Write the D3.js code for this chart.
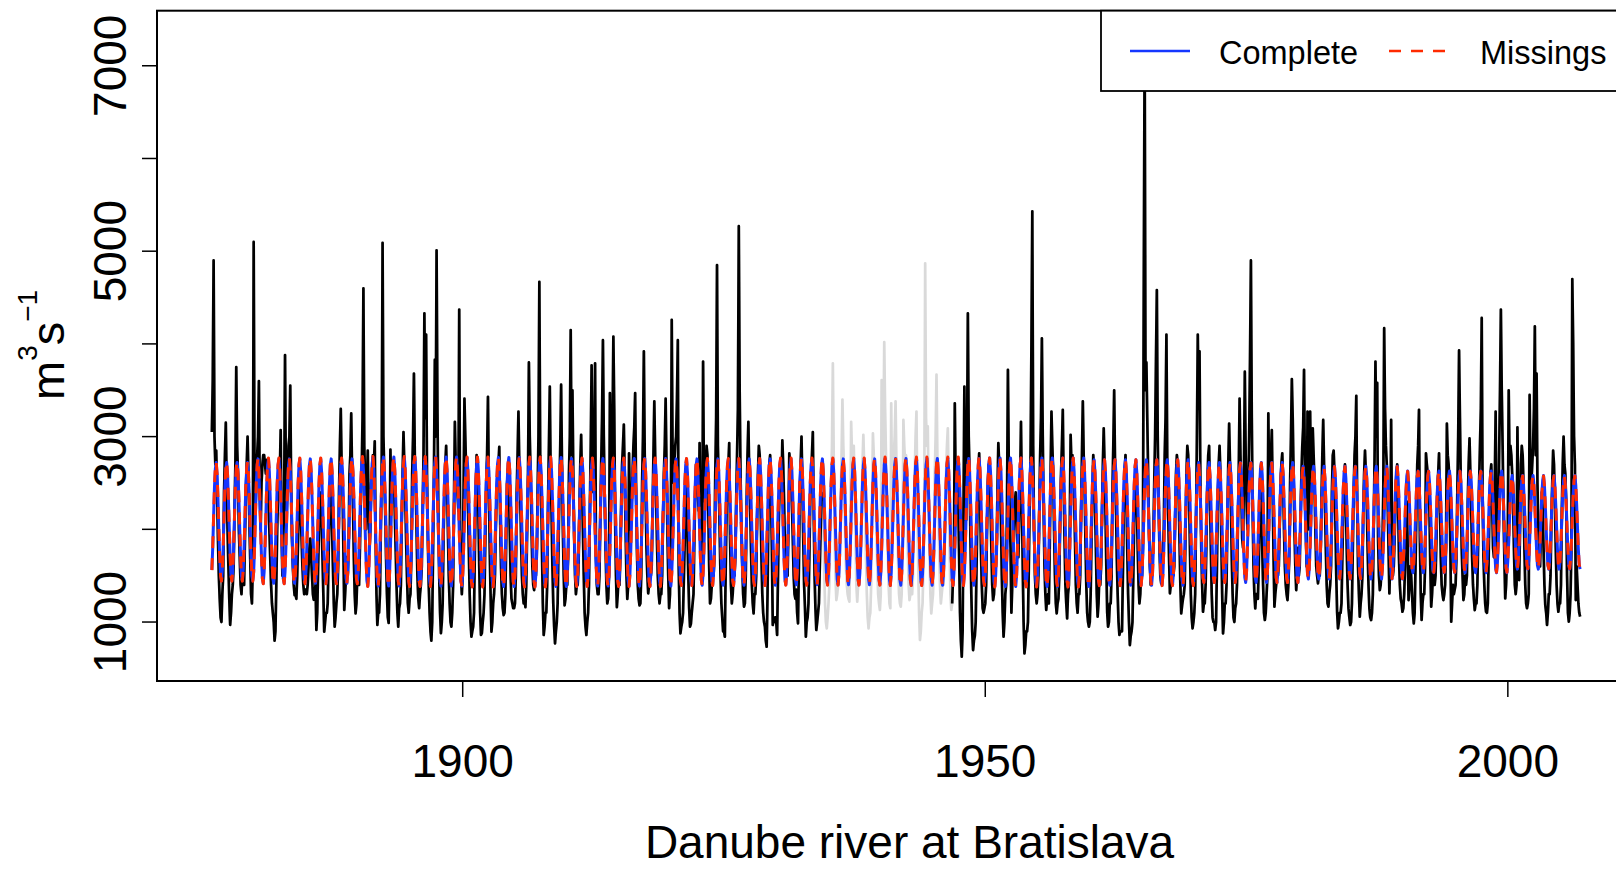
<!DOCTYPE html>
<html>
<head>
	<meta charset="utf-8">
	<script type="text/javascript" src="https://cdn.jsdelivr.net/npm/d3@7"></script>
	<title> Danube river at Bratislava </title>
	<style>
		body { margin: 0; background: #fff; }
		text { font-family: "Liberation Sans", Arial, Helvetica, sans-serif; fill: #000; }
	</style>
</head>
<body>
	<script type="text/javascript">
		// monthly discharge, m3/s, Jan..Dec for every year
		var startYear = 1876;
		var flow1870s = [
			3050,3600,4900,3000,2700,2850,2400,1900,1500,1250,1050,1000,
			1300,1500,2400,2800,3150,2500,2000,1600,1250,970,1100,1300,
			1400,1600,2200,2700,3750,2900,2600,2000,1700,1400,1300,1500,
			1500,1400,1900,2400,2700,3000,2600,2100,1700,1300,1200,1600];
		var flow1880s = [
			5100,2600,2200,2500,2800,3000,3600,2400,2000,2500,2700,2800,
			2800,2700,2600,2750,2500,2300,2000,1700,1400,1200,1100,1000,
			800,900,1400,2000,2400,2700,2600,3070,2000,1500,1900,2300,
			3880,2500,2200,2600,2900,3000,3550,2500,1900,1600,1400,1290,
			1300,1250,1500,1900,2300,2500,2200,1900,1600,1400,1300,1350,
			1350,1300,1400,1600,1800,1900,1700,1500,1300,1240,1300,1400,
			914,1100,1600,2000,2400,2300,2100,1700,1300,896,1000,1100,
			1100,1200,1700,2200,2450,2300,2000,1600,1200,950,1050,1200,
			1300,1600,2400,2900,3300,2700,2500,1800,1130,1300,1500,1700,
			1500,1800,2600,2800,3250,2600,2300,1700,1300,1093,1200,1500];
		var flow1890s = [
			1500,1400,1800,2300,2600,3200,4600,2900,2500,2000,2500,2850,
			2200,1800,2000,2500,2600,2800,2700,2950,1900,1300,968,1100,
			1100,1300,2000,2700,5090,3000,2600,2200,1700,1300,1050,990,
			1500,2860,2300,2500,2700,2600,2200,1800,1400,1100,950,1150,
			1200,1400,2100,2600,3050,2700,2400,1900,1500,1200,1100,1250,
			1300,1700,2600,3000,3680,2800,2500,2000,1500,1250,1150,1300,
			1400,1600,2200,2800,4330,3200,4100,2600,1900,1400,1100,900,
			800,1000,1800,2600,3830,3000,5010,3300,2200,1500,1100,880,
			1000,1200,1900,2400,2700,2900,2500,2000,1500,1200,1000,950,
			1100,1400,2300,3160,2700,2600,2400,2200,4370,2000,1500,1300];
		var flow1900s = [
			1500,2400,3410,3000,2600,2700,2300,1800,1300,1000,842,900,
			950,1100,1800,2400,2800,2600,2200,1600,1100,860,880,1000,
			1100,1300,1900,2500,2800,3430,2500,1800,1300,896,1000,1200,
			1300,1500,2000,2400,2600,2700,2890,2100,1600,1300,1150,1075,
			1100,1300,1900,2500,2650,2500,2000,1500,1250,1200,1150,1150,
			1200,1500,2400,2800,3270,2700,2400,1900,1500,1300,1200,1250,
			1160,1400,2000,2600,3800,3000,2600,2000,1600,1400,1345,1500,
			1500,1700,2400,3000,4670,2800,2500,1800,1200,860,950,1100,
			1100,1400,2300,2900,3540,2600,2200,1600,1200,950,770,900,
			1000,1200,1800,2400,2900,3560,2700,2000,1500,1180,1250,1400];
		var flow1910s = [
			1400,1700,2600,3000,4150,2800,3500,2600,1900,1500,1300,1400,
			1400,1600,2200,2700,3020,2500,2000,1500,1100,950,860,1000,
			1100,1400,2200,2900,3770,2600,2400,2800,3790,1700,1400,1300,
			1300,1500,2100,2700,3200,4040,3000,2400,1800,1400,1200,1250,
			1500,3470,2500,2700,3100,4080,3300,2100,1500,1160,1300,1500,
			1400,1700,2300,2700,2900,3130,2600,2000,1500,1250,1400,2820,
			2200,2000,2300,2600,2900,3100,3470,2500,1800,1400,1250,1180,
			1200,1500,2500,3000,3920,2800,2400,1800,1500,1310,1400,1500,
			1500,1600,2200,2800,3380,2800,2400,1900,1500,1300,1200,1300,
			1300,1500,2100,2600,2900,3410,2700,2000,1500,1150,1300,2000];
		var flow1920s = [
			4260,2800,2500,2700,2900,3000,3400,4040,1600,1100,878,950,
			1000,1100,1500,1900,2300,2500,2000,1500,1150,950,980,1100,
			1200,1300,1900,2400,2700,2600,2400,2200,2930,2000,1600,1700,
			3810,2500,2300,2600,2900,2800,2200,1600,1200,1250,1400,1600,
			1500,1700,2600,3200,4850,2900,2500,2000,1500,1200,1050,900,
			900,842,1600,2200,2600,2700,2930,1900,1400,1200,1300,1500,
			1500,1700,2300,2800,3300,5270,3500,2600,2000,1600,1300,1165,
			1200,1500,2300,2800,3160,2600,2300,1800,1400,1200,1093,1300,
			1300,1500,2100,2600,2900,2800,2300,1700,1300,1100,1000,950,
			800,734,1300,2200,2700,2800,2400,1800,968,1050,1000,1050];
		var flow1930s = [
			1000,860,1500,2100,2500,2600,2400,2960,2700,2300,1800,1700,
			1600,1500,2000,2820,2700,2600,2300,1900,1500,1300,1250,1350,
			1100,986,1600,2400,2700,3000,2500,1900,1400,1150,842,1000,
			1050,1200,1700,2300,2600,2800,3050,2200,1500,1150,914,1000,
			1100,1200,1600,2000,2300,2400,2100,1600,1200,1000,932,1050,
			1200,1400,2000,2500,2900,3790,2800,2000,1500,1237,1300,1400,
			1500,1700,2300,2800,3400,2900,2600,2000,1600,1400,1300,1250,
			1220,2000,3160,2800,2700,2900,2500,1900,1400,1220,1400,1700,
			1600,1700,2200,2700,3020,2700,2300,1700,1300,1050,932,1050,
			1100,1400,2300,3035,2800,2700,2500,2000,1600,1300,1200,1130];
		var flow1940s = [
			1300,3610,2700,2900,4020,3300,2800,2300,1800,1400,1200,1150,
			3360,2300,2400,2800,3000,3380,2700,2100,1600,1300,1200,1165,
			1300,1800,3180,2900,2700,2800,2400,1800,1400,1237,1300,1400,
			1300,1500,2100,2600,3000,3270,2300,1600,1100,806,900,1100,
			1200,1600,2500,4870,3200,2900,3110,2300,1700,1300,1093,1200,
			1300,1700,2600,3000,3670,2800,2400,1800,1400,1201,1300,1400,
			1400,1600,2100,2600,2900,3090,2500,1800,1300,1130,1200,1500,
			1600,3360,2500,2700,2600,2300,1700,1100,800,626,900,2200,
			3540,2200,2100,2800,4330,3000,2600,1900,1300,900,698,800,
			850,1000,1600,2200,2600,2820,2400,1800,1400,1150,1100,1150];
		var flow1950s = [
			1201,1400,2000,2500,2700,2600,2300,1800,1400,1237,1300,1500,
			1600,1800,2400,2930,2700,2500,2100,1500,1100,842,1000,1300,
			1400,2300,3720,2700,2200,1800,1100,1400,1600,2000,2300,2400,
			2200,1800,1700,2100,2500,3160,2400,1600,1000,662,750,900,
			900,1000,1600,2300,2800,3990,5430,2900,2000,1500,1300,1200,
			1300,1500,2200,2800,3200,4060,3000,2200,1600,1300,1130,1250,
			1300,1200,1800,2600,3270,2900,2600,2000,1500,1200,1093,1200,
			1250,1500,2100,2600,2900,3290,2500,1900,1400,1200,1040,1300,
			1400,2000,3020,2700,2800,2700,2400,1900,1400,1200,1100,1300,
			1300,1500,2200,2800,3380,2800,2500,1900,1400,1100,1000,950];
		var flow1960s = [
			1000,1300,1900,2400,2800,2600,2300,1800,1300,1058,1200,1500,
			1400,1600,2200,2700,3090,2700,2200,1600,1100,950,1000,1200,
			1200,1500,2400,2900,3500,2700,2300,1700,1300,1000,860,900,
			900,900,1500,2200,2600,2800,2400,1800,1300,1000,752,850,
			900,1000,1500,2100,2460,2600,2300,1800,1400,1200,1300,1600,
			1500,1800,4700,7300,3500,3800,3200,2600,2000,1600,1400,1600,
			1700,1900,2500,3000,3830,4580,3000,2300,1800,1500,1417,1700,
			1800,2000,2800,3200,4100,2700,2200,1700,1310,1400,1500,1600,
			1500,1600,2100,2600,2800,2700,2400,1900,1400,1093,1180,1250,
			1300,1400,2000,2600,2900,2800,2400,1800,1300,1050,932,1000];
		var flow1970s = [
			1100,1300,2100,3000,4100,3300,3920,2500,1800,1400,1111,1200,
			1200,1400,1900,2500,2800,2900,2400,1800,1300,1050,1000,1000,
			914,1000,1600,2300,2700,2900,2600,1900,1300,878,1000,1200,
			1200,1400,2100,2700,3140,2700,2300,1700,1300,1050,1000,1150,
			1200,1400,2000,2600,3410,2800,2400,1900,1800,2600,3700,2800,
			2300,2000,2400,3000,3860,4900,3200,2200,1600,1300,1147,1300,
			1300,1250,1600,2100,2400,2300,1800,1400,1100,1022,1100,1300,
			1500,3250,2400,2500,2800,3070,2400,1700,1165,1300,1400,1500,
			1500,1600,2000,2500,2700,2820,2500,2000,1600,1400,1300,1237,
			1400,1700,2500,3000,3620,3200,2600,2000,1600,1345,1500,1800];
		var flow1980s = [
			1500,1600,2100,2600,2900,3100,3720,2600,2000,1600,3270,2200,
			2000,3270,2500,2700,3090,2800,2500,2000,1600,1500,1417,1500,
			1500,1700,2300,2800,3180,2700,2300,1800,1400,1200,1165,1300,
			1400,1600,2400,2800,2850,2600,2100,1500,1100,932,1000,1100,
			1100,1200,1700,2200,2500,2700,2300,1800,1400,1150,1050,968,
			1000,1200,1800,2400,2800,3000,3440,2300,1600,1300,1058,1200,
			1300,1500,2200,2600,2850,2600,2300,1800,1400,1150,1050,1022,
			1100,1300,2000,2800,3810,3000,3580,1900,1500,1345,1400,1600,
			1800,2400,4170,3300,2900,2700,2300,1800,1309,1700,3180,2000,
			1500,1600,1900,2300,2600,2700,2300,1700,1400,1250,1200,1111];
		var flow1990s = [
			1150,1300,1600,2000,2300,1800,1237,1400,1600,1500,1300,1100,
			986,1100,1600,2200,2700,2900,3290,1900,1300,1022,1200,1300,
			1300,1600,2820,2700,2600,2500,2200,1600,1165,1300,1500,1600,
			1400,1500,1900,2400,2600,2820,2300,1700,1400,1300,1237,1300,
			1400,1800,3140,2800,2700,2500,1800,1004,1200,1400,1300,1350,
			1400,1700,2400,3000,3930,3200,2500,1800,1500,1237,1300,1500,
			1400,1500,2300,2700,2980,2600,2200,1700,1400,1250,1129,1200,
			1200,1400,1900,2500,2900,3300,4280,2400,1700,1400,1200,1111,
			1100,1200,1700,2300,2600,2700,2300,1800,1700,2500,3270,2000,
			1700,2000,2800,3500,4370,3500,2900,2200,1700,1255,1400,1700];
		var flow2000s = [
			2000,3500,2700,2900,2800,2600,2300,1800,1400,1300,1400,3100,
			2200,1453,2000,2700,2900,2800,2500,1800,1400,1200,1150,1200,
			1300,3450,2600,2500,2700,2900,3300,4190,2800,3680,2500,2000,
			1800,1600,2000,2400,2200,1800,1400,1183,1100,968,1100,1300,
			1300,1500,2100,2500,2850,2700,2300,1800,1400,1200,1111,1200,
			1200,1400,2200,2700,3000,2700,2600,2300,1500,1100,1004,1100,
			1300,1800,4700,4020,3000,2700,1237,1600,1400,1200,1100,1058];

		// months not observed (drawn grey under the black line)
		var gapStart = 1934.5;
		var gapEnd = 1946.75;

		// fitted seasonal cycle: share of the yearly range for Jan..Dec
		var seasonShape = [0.11, 0.30, 0.55, 0.80, 0.95, 1.00, 0.90, 0.70, 0.45, 0.22, 0.06, 0.02];
		var seasonDecades = [1870, 1880, 1890, 1900, 1910, 1920, 1930, 1940, 1950, 1960, 1970, 1980, 1990, 2000];
		var peakComplete   = [2720, 2760, 2780, 2775, 2765, 2760, 2760, 2765, 2770, 2750, 2720, 2680, 2630, 2580];
		var troughComplete = [1420, 1390, 1360, 1355, 1360, 1370, 1375, 1370, 1355, 1370, 1400, 1440, 1510, 1550];
		var peakMissing    = [2730, 2770, 2785, 2780, 2770, 2765, 2770, 2780, 2770, 2750, 2715, 2675, 2625, 2575];
		var troughMissing  = [1415, 1385, 1355, 1350, 1355, 1365, 1370, 1365, 1350, 1365, 1400, 1445, 1515, 1555];

		var yTicks = [1000, 2000, 3000, 4000, 5000, 6000, 7000];
		var yLabels = [1000, 3000, 5000, 7000];
		var xTicks = [1900, 1950, 2000];

		var w = 1616;
		var h = 869;
		// note: "top" is taken by window.top, so plot edges get their own names
		var plotLeft = 157, plotRight = 1662, plotTop = 10.7, plotBottom = 681;

		var svg = d3.select("body")
					.append("svg")
					.attr("width", w)
					.attr("height", h);

		var x = d3.scaleLinear().domain([1870.75, 2014.75]).range([plotLeft, plotRight]);
		var y = d3.scaleLinear().domain([364, 7594]).range([plotBottom, plotTop]);

		var flow = [].concat(flow1870s, flow1880s, flow1890s, flow1900s, flow1910s, flow1920s,
							 flow1930s, flow1940s, flow1950s, flow1960s, flow1970s, flow1980s,
							 flow1990s, flow2000s);
		var series = flow.map(function(v, i) {
			return { t: startYear + i / 12, v: v };
		});

		function seasonal(peaks, troughs) {
			return series.map(function(d, i) {
				var k = seasonDecades.indexOf(Math.floor(d.t / 10) * 10);
				var m = i % 12;
				return { t: d.t, v: troughs[k] + (peaks[k] - troughs[k]) * seasonShape[m] };
			});
		}

		svg.append("clipPath")
		   .attr("id", "plotArea")
		   .append("rect")
		   .attr("x", plotLeft)
		   .attr("y", plotTop)
		   .attr("width", plotRight - plotLeft)
		   .attr("height", plotBottom - plotTop);

		var line = d3.line()
					 .x(function(d) { return x(d.t); })
					 .y(function(d) { return y(d.v); });

		var plot = svg.append("g").attr("clip-path", "url(#plotArea)");

		// whole record in grey, then the observed part in black
		plot.append("path")
			.attr("d", line(series))
			.attr("fill", "none")
			.attr("stroke", "#d9d9d9")
			.attr("stroke-width", 2.7)
			.attr("stroke-linejoin", "round");

		var observed = d3.line()
						 .defined(function(d) { return d.t < gapStart || d.t > gapEnd; })
						 .x(function(d) { return x(d.t); })
						 .y(function(d) { return y(d.v); });

		plot.append("path")
			.attr("d", observed(series))
			.attr("fill", "none")
			.attr("stroke", "#000")
			.attr("stroke-width", 2.7)
			.attr("stroke-linejoin", "round");

		plot.append("path")
			.attr("d", line(seasonal(peakComplete, troughComplete)))
			.attr("fill", "none")
			.attr("stroke", "#1536ff")
			.attr("stroke-width", 3)
			.attr("stroke-linejoin", "round");

		plot.append("path")
			.attr("d", line(seasonal(peakMissing, troughMissing)))
			.attr("fill", "none")
			.attr("stroke", "#ff2a00")
			.attr("stroke-width", 3)
			.attr("stroke-dasharray", "12,10")
			.attr("stroke-linejoin", "round");

		// y axis
		svg.selectAll(".ytick")
		   .data(yTicks)
		   .enter()
		   .append("line")
		   .attr("x1", plotLeft - 15)
		   .attr("x2", plotLeft)
		   .attr("y1", function(d) { return y(d); })
		   .attr("y2", function(d) { return y(d); })
		   .attr("stroke", "#000")
		   .attr("stroke-width", 1.5);

		svg.selectAll(".ylabel")
		   .data(yLabels)
		   .enter()
		   .append("text")
		   .attr("transform", function(d) { return "translate(126," + y(d) + ") rotate(-90)"; })
		   .attr("text-anchor", "middle")
		   .attr("font-size", 46)
		   .text(function(d) { return d; });

		// x axis
		svg.selectAll(".xtick")
		   .data(xTicks)
		   .enter()
		   .append("line")
		   .attr("x1", function(d) { return x(d); })
		   .attr("x2", function(d) { return x(d); })
		   .attr("y1", plotBottom)
		   .attr("y2", plotBottom + 16)
		   .attr("stroke", "#000")
		   .attr("stroke-width", 1.5);

		svg.selectAll(".xlabel")
		   .data(xTicks)
		   .enter()
		   .append("text")
		   .attr("x", function(d) { return x(d); })
		   .attr("y", 777)
		   .attr("text-anchor", "middle")
		   .attr("font-size", 46)
		   .text(function(d) { return d; });

		svg.append("text")
		   .attr("x", (plotLeft + plotRight) / 2)
		   .attr("y", 858)
		   .attr("text-anchor", "middle")
		   .attr("font-size", 46)
		   .text("Danube river at Bratislava");

		var ylab = svg.append("text")
					  .attr("transform", "translate(64,400) rotate(-90)")
					  .attr("font-size", 47);
		ylab.append("tspan").text("m");
		ylab.append("tspan").attr("font-size", 28).attr("dy", -27).text("3");
		ylab.append("tspan").attr("dy", 27).text("s");
		ylab.append("tspan").attr("font-size", 28).attr("dy", -27).text("\u22121");

		// frame
		svg.append("rect")
		   .attr("x", plotLeft)
		   .attr("y", plotTop)
		   .attr("width", plotRight - plotLeft)
		   .attr("height", plotBottom - plotTop)
		   .attr("fill", "none")
		   .attr("stroke", "#000")
		   .attr("stroke-width", 2);

		// legend, top right
		var legend = svg.append("g");
		legend.append("rect")
			  .attr("x", 1101)
			  .attr("y", plotTop)
			  .attr("width", plotRight - 1101)
			  .attr("height", 91 - plotTop)
			  .attr("fill", "#fff")
			  .attr("stroke", "#000")
			  .attr("stroke-width", 1.8);
		legend.append("line")
			  .attr("x1", 1130).attr("x2", 1190)
			  .attr("y1", 51).attr("y2", 51)
			  .attr("stroke", "#1536ff")
			  .attr("stroke-width", 2.7);
		legend.append("line")
			  .attr("x1", 1389).attr("x2", 1446)
			  .attr("y1", 51).attr("y2", 51)
			  .attr("stroke", "#ff2a00")
			  .attr("stroke-width", 2.7)
			  .attr("stroke-dasharray", "12,10");
		legend.append("text")
			  .attr("x", 1219).attr("y", 64)
			  .attr("font-size", 32.5)
			  .text("Complete");
		legend.append("text")
			  .attr("x", 1480).attr("y", 64)
			  .attr("font-size", 32.5)
			  .text("Missings");
	</script>
</body>
</html>
